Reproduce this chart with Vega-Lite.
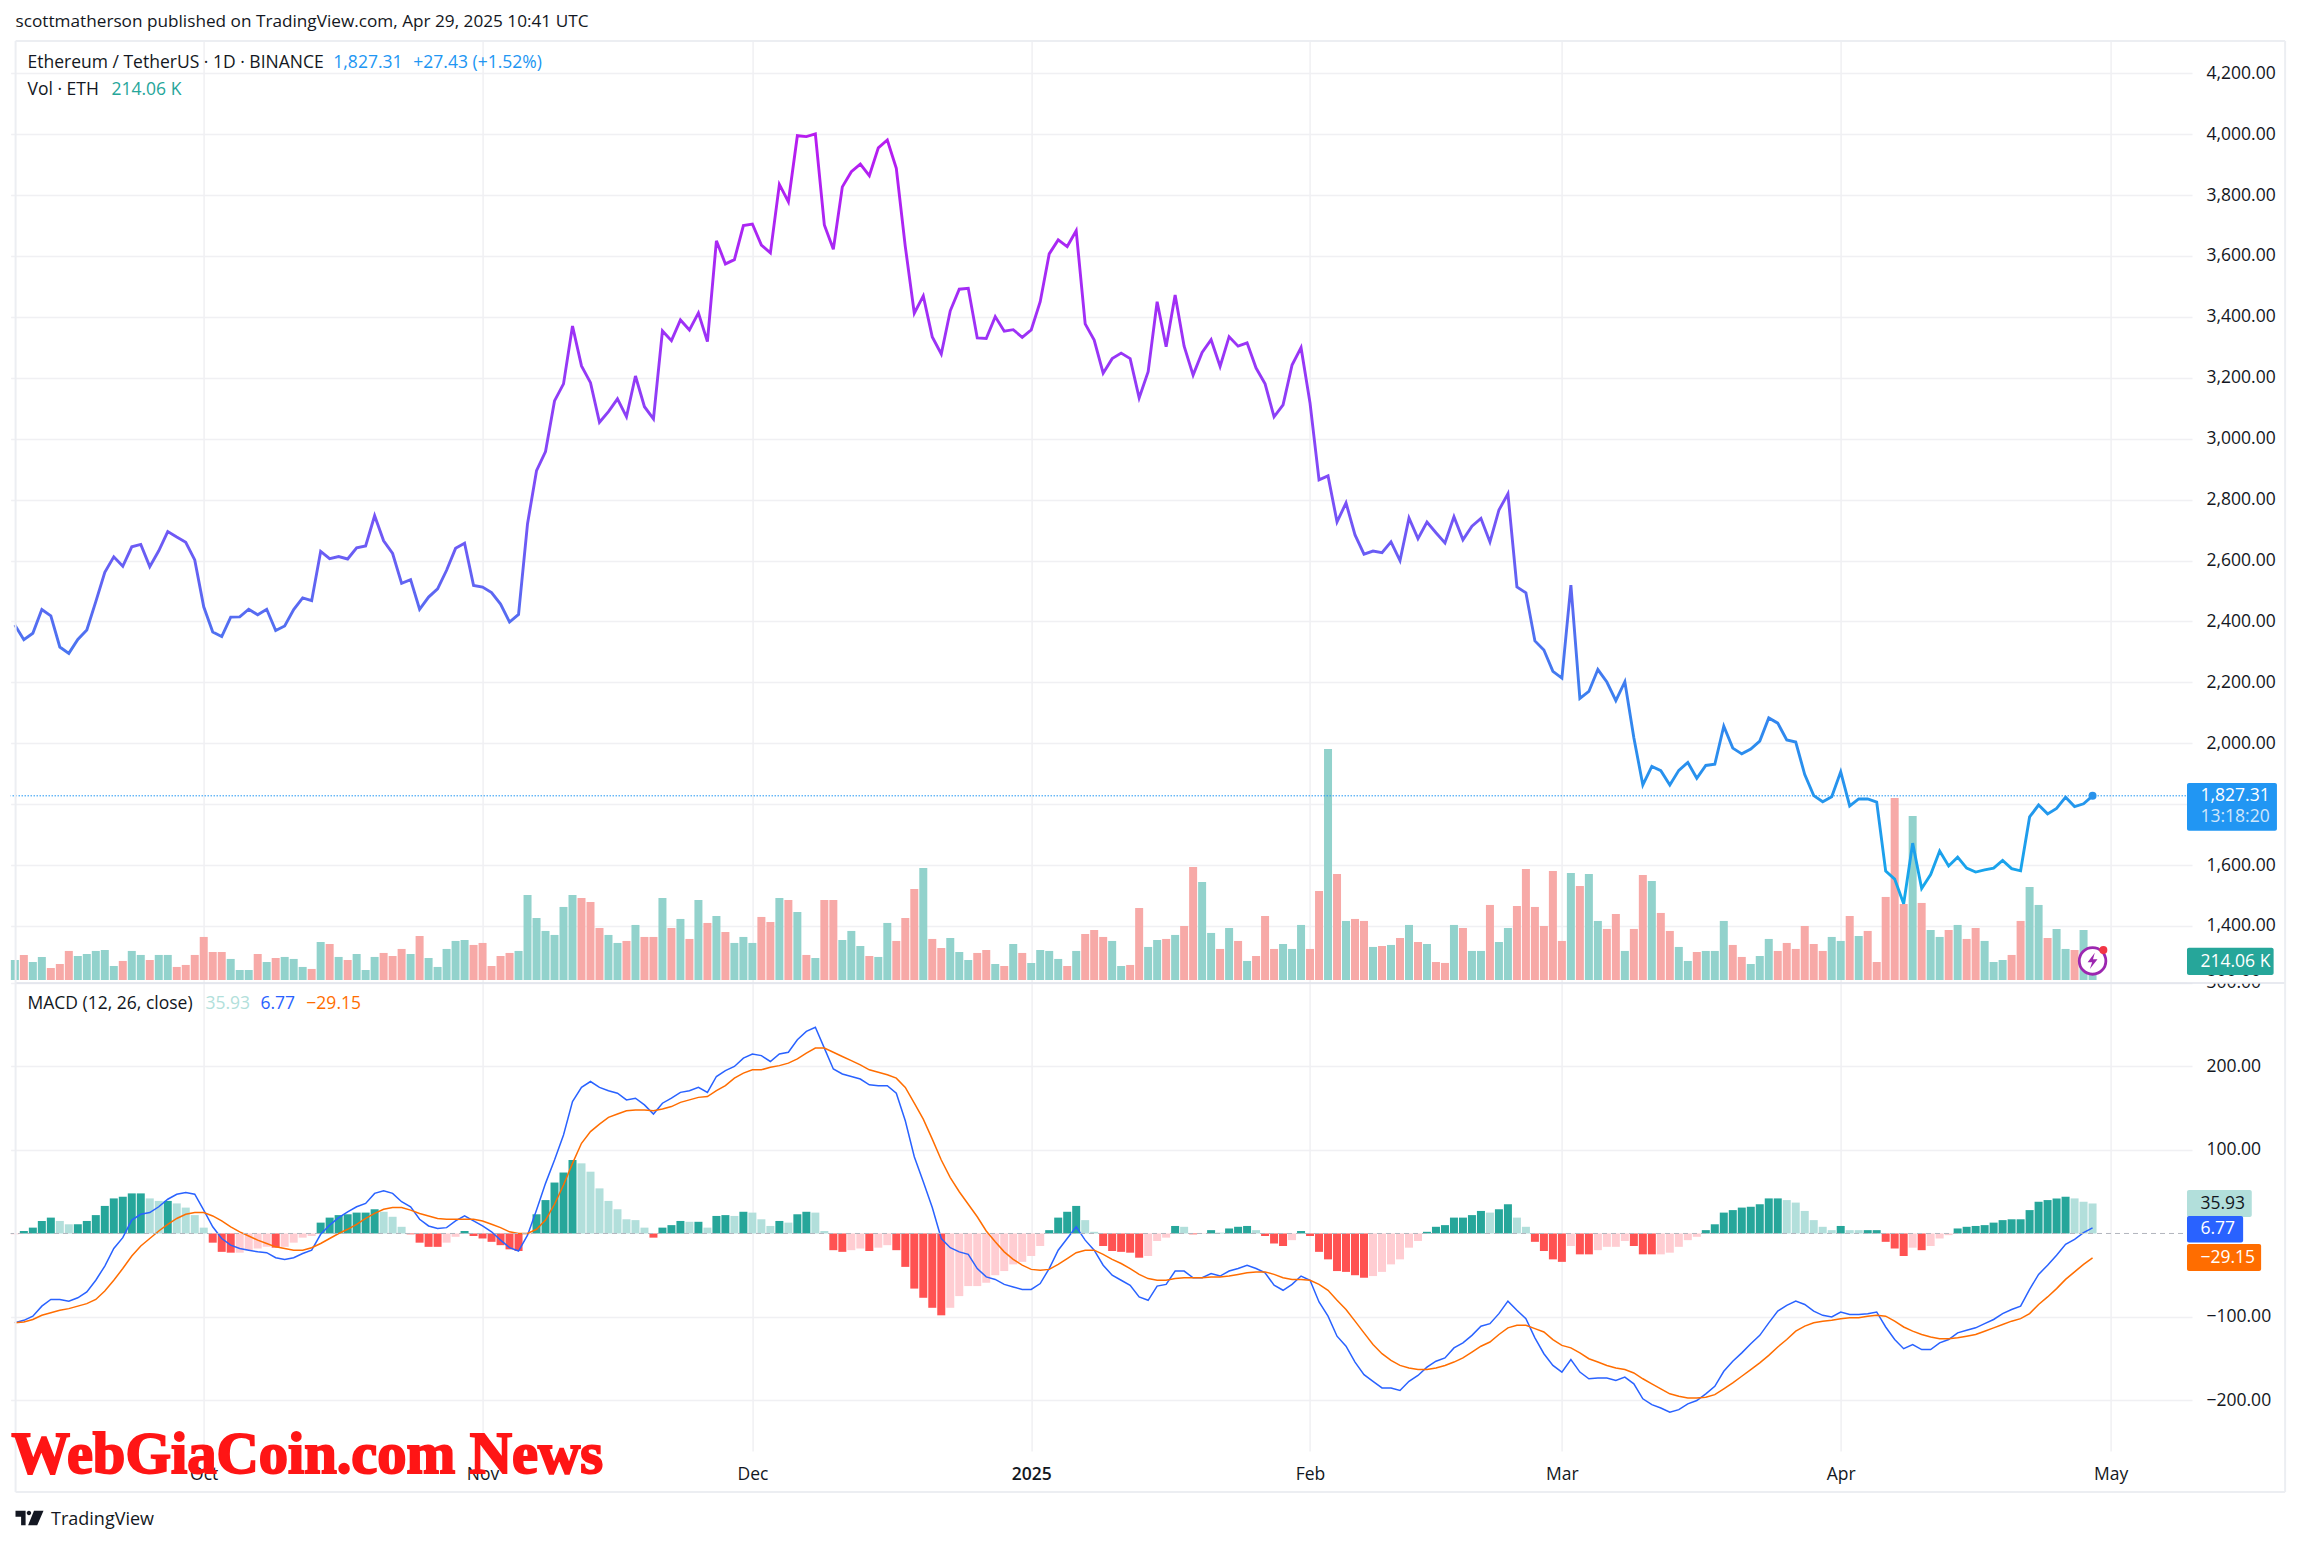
{
  "$schema": "https://vega.github.io/schema/vega-lite/v6.json",
  "autosize": {"type": "none"},
  "padding": {"left": 10.6, "top": 41, "right": 109, "bottom": 95},
  "width": 2181.4,
  "height": 1410,
  "background": "white",
  "config": {
    "view": {"stroke": null},
    "text": {"font": "Open Sans"},
    "axis": {"labelFont": "Open Sans", "labelFontSize": 17.5, "labelColor": "#131722", "gridColor": "#f0f0f3", "gridWidth": 1.5, "domain": false, "ticks": false, "title": null}
  },
  "data": {"values": [
{"date":"2024-09-10","close":2388,"vol":190,"dir":"up","macd":-107,"signal":-107,"hist":-1,"state":"ease"},
{"date":"2024-09-11","close":2340,"vol":238,"dir":"down","macd":-104,"signal":-106,"hist":3,"state":"rise"},
{"date":"2024-09-12","close":2361,"vol":171,"dir":"up","macd":-99,"signal":-103,"hist":7,"state":"rise"},
{"date":"2024-09-13","close":2439,"vol":219,"dir":"up","macd":-87,"signal":-98,"hist":15,"state":"rise"},
{"date":"2024-09-14","close":2418,"vol":114,"dir":"down","macd":-79,"signal":-95,"hist":19,"state":"rise"},
{"date":"2024-09-15","close":2316,"vol":152,"dir":"down","macd":-79,"signal":-92,"hist":15,"state":"fade"},
{"date":"2024-09-16","close":2295,"vol":276,"dir":"down","macd":-81,"signal":-90,"hist":11,"state":"fade"},
{"date":"2024-09-17","close":2341,"vol":228,"dir":"up","macd":-77,"signal":-87,"hist":11,"state":"rise"},
{"date":"2024-09-18","close":2372,"vol":247,"dir":"up","macd":-70,"signal":-84,"hist":15,"state":"rise"},
{"date":"2024-09-19","close":2465,"vol":276,"dir":"up","macd":-56,"signal":-79,"hist":22,"state":"rise"},
{"date":"2024-09-20","close":2561,"vol":285,"dir":"up","macd":-39,"signal":-69,"hist":33,"state":"rise"},
{"date":"2024-09-21","close":2612,"vol":133,"dir":"up","macd":-18,"signal":-56,"hist":42,"state":"rise"},
{"date":"2024-09-22","close":2581,"vol":181,"dir":"down","macd":-5,"signal":-42,"hist":44,"state":"rise"},
{"date":"2024-09-23","close":2645,"vol":276,"dir":"up","macd":16,"signal":-27,"hist":48,"state":"rise"},
{"date":"2024-09-24","close":2653,"vol":238,"dir":"up","macd":23,"signal":-15,"hist":48,"state":"rise"},
{"date":"2024-09-25","close":2580,"vol":190,"dir":"down","macd":25,"signal":-6,"hist":42,"state":"fade"},
{"date":"2024-09-26","close":2632,"vol":238,"dir":"up","macd":32,"signal":3,"hist":39,"state":"fade"},
{"date":"2024-09-27","close":2695,"vol":238,"dir":"up","macd":41,"signal":11,"hist":39,"state":"rise"},
{"date":"2024-09-28","close":2677,"vol":124,"dir":"down","macd":47,"signal":18,"hist":36,"state":"fade"},
{"date":"2024-09-29","close":2660,"vol":143,"dir":"down","macd":49,"signal":23,"hist":31,"state":"fade"},
{"date":"2024-09-30","close":2602,"vol":238,"dir":"down","macd":47,"signal":25,"hist":22,"state":"fade"},
{"date":"2024-10-01","close":2448,"vol":409,"dir":"down","macd":28,"signal":25,"hist":7,"state":"fade"},
{"date":"2024-10-02","close":2365,"vol":266,"dir":"down","macd":8,"signal":21,"hist":-11,"state":"drop"},
{"date":"2024-10-03","close":2350,"vol":266,"dir":"down","macd":-6,"signal":15,"hist":-22,"state":"drop"},
{"date":"2024-10-04","close":2414,"vol":200,"dir":"up","macd":-14,"signal":8,"hist":-23,"state":"drop"},
{"date":"2024-10-05","close":2415,"vol":95,"dir":"up","macd":-18,"signal":2,"hist":-23,"state":"ease"},
{"date":"2024-10-06","close":2440,"vol":95,"dir":"up","macd":-20,"signal":-3,"hist":-20,"state":"ease"},
{"date":"2024-10-07","close":2422,"vol":247,"dir":"down","macd":-22,"signal":-8,"hist":-18,"state":"ease"},
{"date":"2024-10-08","close":2440,"vol":171,"dir":"up","macd":-23,"signal":-12,"hist":-16,"state":"ease"},
{"date":"2024-10-09","close":2370,"vol":209,"dir":"down","macd":-29,"signal":-16,"hist":-17,"state":"drop"},
{"date":"2024-10-10","close":2385,"vol":219,"dir":"up","macd":-31,"signal":-18,"hist":-16,"state":"ease"},
{"date":"2024-10-11","close":2439,"vol":200,"dir":"up","macd":-29,"signal":-20,"hist":-11,"state":"ease"},
{"date":"2024-10-12","close":2477,"vol":124,"dir":"up","macd":-24,"signal":-20,"hist":-5,"state":"ease"},
{"date":"2024-10-13","close":2468,"vol":105,"dir":"down","macd":-20,"signal":-17,"hist":-3,"state":"ease"},
{"date":"2024-10-14","close":2630,"vol":361,"dir":"up","macd":-1,"signal":-12,"hist":13,"state":"rise"},
{"date":"2024-10-15","close":2606,"vol":342,"dir":"down","macd":10,"signal":-6,"hist":19,"state":"rise"},
{"date":"2024-10-16","close":2613,"vol":219,"dir":"up","macd":19,"signal":0,"hist":22,"state":"rise"},
{"date":"2024-10-17","close":2605,"vol":190,"dir":"down","macd":26,"signal":5,"hist":23,"state":"rise"},
{"date":"2024-10-18","close":2642,"vol":247,"dir":"up","macd":32,"signal":11,"hist":25,"state":"rise"},
{"date":"2024-10-19","close":2648,"vol":95,"dir":"up","macd":36,"signal":18,"hist":25,"state":"rise"},
{"date":"2024-10-20","close":2747,"vol":219,"dir":"up","macd":48,"signal":24,"hist":29,"state":"rise"},
{"date":"2024-10-21","close":2665,"vol":257,"dir":"down","macd":51,"signal":29,"hist":26,"state":"fade"},
{"date":"2024-10-22","close":2623,"vol":228,"dir":"down","macd":48,"signal":31,"hist":20,"state":"fade"},
{"date":"2024-10-23","close":2525,"vol":295,"dir":"down","macd":38,"signal":31,"hist":8,"state":"fade"},
{"date":"2024-10-24","close":2537,"vol":247,"dir":"up","macd":32,"signal":28,"hist":-1,"state":"drop"},
{"date":"2024-10-25","close":2440,"vol":418,"dir":"down","macd":17,"signal":24,"hist":-11,"state":"drop"},
{"date":"2024-10-26","close":2480,"vol":209,"dir":"up","macd":9,"signal":21,"hist":-16,"state":"drop"},
{"date":"2024-10-27","close":2507,"vol":124,"dir":"up","macd":6,"signal":18,"hist":-16,"state":"drop"},
{"date":"2024-10-28","close":2568,"vol":295,"dir":"up","macd":7,"signal":17,"hist":-11,"state":"ease"},
{"date":"2024-10-29","close":2640,"vol":371,"dir":"up","macd":15,"signal":17,"hist":-4,"state":"ease"},
{"date":"2024-10-30","close":2657,"vol":380,"dir":"up","macd":21,"signal":17,"hist":3,"state":"rise"},
{"date":"2024-10-31","close":2518,"vol":333,"dir":"down","macd":15,"signal":17,"hist":-3,"state":"drop"},
{"date":"2024-11-01","close":2513,"vol":352,"dir":"down","macd":9,"signal":15,"hist":-6,"state":"drop"},
{"date":"2024-11-02","close":2495,"vol":133,"dir":"down","macd":2,"signal":11,"hist":-10,"state":"drop"},
{"date":"2024-11-03","close":2457,"vol":228,"dir":"down","macd":-8,"signal":7,"hist":-14,"state":"drop"},
{"date":"2024-11-04","close":2398,"vol":257,"dir":"down","macd":-17,"signal":2,"hist":-19,"state":"drop"},
{"date":"2024-11-05","close":2423,"vol":276,"dir":"up","macd":-21,"signal":0,"hist":-21,"state":"drop"},
{"date":"2024-11-06","close":2721,"vol":808,"dir":"up","macd":-2,"signal":0,"hist":-1,"state":"ease"},
{"date":"2024-11-07","close":2895,"vol":589,"dir":"up","macd":28,"signal":5,"hist":23,"state":"rise"},
{"date":"2024-11-08","close":2958,"vol":466,"dir":"up","macd":60,"signal":16,"hist":40,"state":"rise"},
{"date":"2024-11-09","close":3124,"vol":428,"dir":"up","macd":88,"signal":35,"hist":61,"state":"rise"},
{"date":"2024-11-10","close":3180,"vol":694,"dir":"up","macd":118,"signal":58,"hist":73,"state":"rise"},
{"date":"2024-11-11","close":3370,"vol":808,"dir":"up","macd":158,"signal":84,"hist":88,"state":"rise"},
{"date":"2024-11-12","close":3239,"vol":779,"dir":"down","macd":175,"signal":108,"hist":84,"state":"fade"},
{"date":"2024-11-13","close":3184,"vol":741,"dir":"down","macd":182,"signal":122,"hist":74,"state":"fade"},
{"date":"2024-11-14","close":3054,"vol":494,"dir":"down","macd":175,"signal":131,"hist":54,"state":"fade"},
{"date":"2024-11-15","close":3089,"vol":428,"dir":"up","macd":171,"signal":139,"hist":39,"state":"fade"},
{"date":"2024-11-16","close":3131,"vol":352,"dir":"up","macd":168,"signal":143,"hist":29,"state":"fade"},
{"date":"2024-11-17","close":3072,"vol":371,"dir":"down","macd":160,"signal":147,"hist":17,"state":"fade"},
{"date":"2024-11-18","close":3206,"vol":523,"dir":"up","macd":162,"signal":148,"hist":16,"state":"fade"},
{"date":"2024-11-19","close":3105,"vol":409,"dir":"down","macd":154,"signal":148,"hist":7,"state":"fade"},
{"date":"2024-11-20","close":3065,"vol":409,"dir":"down","macd":143,"signal":147,"hist":-5,"state":"drop"},
{"date":"2024-11-21","close":3354,"vol":779,"dir":"up","macd":156,"signal":149,"hist":7,"state":"rise"},
{"date":"2024-11-22","close":3322,"vol":494,"dir":"down","macd":162,"signal":152,"hist":10,"state":"rise"},
{"date":"2024-11-23","close":3390,"vol":580,"dir":"up","macd":169,"signal":157,"hist":15,"state":"rise"},
{"date":"2024-11-24","close":3357,"vol":390,"dir":"down","macd":171,"signal":160,"hist":14,"state":"fade"},
{"date":"2024-11-25","close":3413,"vol":760,"dir":"up","macd":175,"signal":163,"hist":14,"state":"rise"},
{"date":"2024-11-26","close":3319,"vol":542,"dir":"down","macd":169,"signal":164,"hist":7,"state":"fade"},
{"date":"2024-11-27","close":3650,"vol":608,"dir":"up","macd":188,"signal":171,"hist":21,"state":"rise"},
{"date":"2024-11-28","close":3574,"vol":456,"dir":"down","macd":195,"signal":177,"hist":22,"state":"rise"},
{"date":"2024-11-29","close":3588,"vol":352,"dir":"up","macd":200,"signal":186,"hist":21,"state":"fade"},
{"date":"2024-11-30","close":3700,"vol":409,"dir":"up","macd":210,"signal":192,"hist":26,"state":"rise"},
{"date":"2024-12-01","close":3705,"vol":352,"dir":"up","macd":215,"signal":196,"hist":25,"state":"fade"},
{"date":"2024-12-02","close":3636,"vol":599,"dir":"down","macd":213,"signal":196,"hist":17,"state":"fade"},
{"date":"2024-12-03","close":3610,"vol":551,"dir":"down","macd":206,"signal":199,"hist":9,"state":"fade"},
{"date":"2024-12-04","close":3835,"vol":779,"dir":"up","macd":215,"signal":201,"hist":15,"state":"rise"},
{"date":"2024-12-05","close":3778,"vol":760,"dir":"down","macd":217,"signal":204,"hist":13,"state":"fade"},
{"date":"2024-12-06","close":3995,"vol":646,"dir":"up","macd":232,"signal":209,"hist":23,"state":"rise"},
{"date":"2024-12-07","close":3992,"vol":238,"dir":"down","macd":242,"signal":216,"hist":26,"state":"rise"},
{"date":"2024-12-08","close":4001,"vol":209,"dir":"up","macd":247,"signal":222,"hist":25,"state":"fade"},
{"date":"2024-12-09","close":3702,"vol":760,"dir":"down","macd":222,"signal":222,"hist":3,"state":"fade"},
{"date":"2024-12-10","close":3622,"vol":760,"dir":"down","macd":197,"signal":217,"hist":-20,"state":"drop"},
{"date":"2024-12-11","close":3827,"vol":380,"dir":"up","macd":191,"signal":212,"hist":-22,"state":"drop"},
{"date":"2024-12-12","close":3877,"vol":466,"dir":"up","macd":188,"signal":207,"hist":-20,"state":"ease"},
{"date":"2024-12-13","close":3902,"vol":323,"dir":"up","macd":185,"signal":202,"hist":-18,"state":"ease"},
{"date":"2024-12-14","close":3864,"vol":228,"dir":"down","macd":178,"signal":196,"hist":-21,"state":"drop"},
{"date":"2024-12-15","close":3955,"vol":219,"dir":"up","macd":177,"signal":193,"hist":-17,"state":"ease"},
{"date":"2024-12-16","close":3981,"vol":542,"dir":"up","macd":177,"signal":190,"hist":-14,"state":"ease"},
{"date":"2024-12-17","close":3888,"vol":371,"dir":"down","macd":168,"signal":186,"hist":-20,"state":"drop"},
{"date":"2024-12-18","close":3631,"vol":589,"dir":"down","macd":135,"signal":175,"hist":-40,"state":"drop"},
{"date":"2024-12-19","close":3412,"vol":865,"dir":"down","macd":92,"signal":156,"hist":-66,"state":"drop"},
{"date":"2024-12-20","close":3469,"vol":1064,"dir":"up","macd":62,"signal":137,"hist":-77,"state":"drop"},
{"date":"2024-12-21","close":3334,"vol":390,"dir":"down","macd":31,"signal":113,"hist":-89,"state":"drop"},
{"date":"2024-12-22","close":3278,"vol":304,"dir":"down","macd":-6,"signal":88,"hist":-98,"state":"drop"},
{"date":"2024-12-23","close":3420,"vol":399,"dir":"up","macd":-17,"signal":67,"hist":-89,"state":"ease"},
{"date":"2024-12-24","close":3491,"vol":266,"dir":"up","macd":-22,"signal":50,"hist":-75,"state":"ease"},
{"date":"2024-12-25","close":3494,"vol":190,"dir":"up","macd":-25,"signal":35,"hist":-63,"state":"ease"},
{"date":"2024-12-26","close":3331,"vol":257,"dir":"down","macd":-42,"signal":20,"hist":-63,"state":"ease"},
{"date":"2024-12-27","close":3329,"vol":285,"dir":"down","macd":-52,"signal":3,"hist":-59,"state":"ease"},
{"date":"2024-12-28","close":3401,"vol":152,"dir":"up","macd":-55,"signal":-10,"hist":-50,"state":"ease"},
{"date":"2024-12-29","close":3353,"vol":133,"dir":"down","macd":-61,"signal":-22,"hist":-45,"state":"ease"},
{"date":"2024-12-30","close":3358,"vol":342,"dir":"up","macd":-64,"signal":-31,"hist":-37,"state":"ease"},
{"date":"2024-12-31","close":3333,"vol":257,"dir":"down","macd":-67,"signal":-38,"hist":-34,"state":"ease"},
{"date":"2025-01-01","close":3357,"vol":162,"dir":"up","macd":-67,"signal":-43,"hist":-27,"state":"ease"},
{"date":"2025-01-02","close":3450,"vol":285,"dir":"up","macd":-60,"signal":-44,"hist":-15,"state":"ease"},
{"date":"2025-01-03","close":3607,"vol":276,"dir":"up","macd":-42,"signal":-43,"hist":4,"state":"rise"},
{"date":"2025-01-04","close":3653,"vol":200,"dir":"up","macd":-20,"signal":-37,"hist":19,"state":"rise"},
{"date":"2025-01-05","close":3631,"vol":133,"dir":"down","macd":-6,"signal":-30,"hist":26,"state":"rise"},
{"date":"2025-01-06","close":3683,"vol":276,"dir":"up","macd":8,"signal":-23,"hist":33,"state":"rise"},
{"date":"2025-01-07","close":3377,"vol":437,"dir":"down","macd":-8,"signal":-20,"hist":16,"state":"fade"},
{"date":"2025-01-08","close":3324,"vol":475,"dir":"down","macd":-20,"signal":-20,"hist":2,"state":"fade"},
{"date":"2025-01-09","close":3215,"vol":409,"dir":"down","macd":-38,"signal":-25,"hist":-15,"state":"drop"},
{"date":"2025-01-10","close":3263,"vol":371,"dir":"up","macd":-50,"signal":-31,"hist":-21,"state":"drop"},
{"date":"2025-01-11","close":3281,"vol":133,"dir":"up","macd":-56,"signal":-36,"hist":-22,"state":"drop"},
{"date":"2025-01-12","close":3263,"vol":143,"dir":"down","macd":-62,"signal":-42,"hist":-23,"state":"drop"},
{"date":"2025-01-13","close":3134,"vol":684,"dir":"down","macd":-76,"signal":-49,"hist":-29,"state":"drop"},
{"date":"2025-01-14","close":3220,"vol":314,"dir":"up","macd":-80,"signal":-54,"hist":-27,"state":"ease"},
{"date":"2025-01-15","close":3450,"vol":380,"dir":"up","macd":-63,"signal":-56,"hist":-9,"state":"ease"},
{"date":"2025-01-16","close":3302,"vol":390,"dir":"down","macd":-61,"signal":-56,"hist":-5,"state":"ease"},
{"date":"2025-01-17","close":3472,"vol":428,"dir":"up","macd":-45,"signal":-54,"hist":9,"state":"rise"},
{"date":"2025-01-18","close":3304,"vol":513,"dir":"down","macd":-45,"signal":-53,"hist":8,"state":"fade"},
{"date":"2025-01-19","close":3209,"vol":1074,"dir":"down","macd":-53,"signal":-53,"hist":-1,"state":"drop"},
{"date":"2025-01-20","close":3283,"vol":931,"dir":"up","macd":-53,"signal":-53,"hist":-0.5,"state":"ease"},
{"date":"2025-01-21","close":3325,"vol":447,"dir":"up","macd":-48,"signal":-52,"hist":4,"state":"rise"},
{"date":"2025-01-22","close":3237,"vol":295,"dir":"down","macd":-51,"signal":-52,"hist":1,"state":"fade"},
{"date":"2025-01-23","close":3335,"vol":494,"dir":"up","macd":-45,"signal":-51,"hist":6,"state":"rise"},
{"date":"2025-01-24","close":3304,"vol":371,"dir":"down","macd":-42,"signal":-49,"hist":8,"state":"rise"},
{"date":"2025-01-25","close":3315,"vol":181,"dir":"up","macd":-38,"signal":-47,"hist":9,"state":"rise"},
{"date":"2025-01-26","close":3232,"vol":228,"dir":"down","macd":-42,"signal":-46,"hist":4,"state":"fade"},
{"date":"2025-01-27","close":3180,"vol":608,"dir":"down","macd":-47,"signal":-46,"hist":-3,"state":"drop"},
{"date":"2025-01-28","close":3072,"vol":295,"dir":"down","macd":-62,"signal":-49,"hist":-12,"state":"drop"},
{"date":"2025-01-29","close":3111,"vol":342,"dir":"up","macd":-68,"signal":-53,"hist":-15,"state":"drop"},
{"date":"2025-01-30","close":3242,"vol":295,"dir":"up","macd":-61,"signal":-55,"hist":-8,"state":"ease"},
{"date":"2025-01-31","close":3299,"vol":523,"dir":"up","macd":-51,"signal":-55,"hist":3,"state":"rise"},
{"date":"2025-02-01","close":3117,"vol":295,"dir":"down","macd":-56,"signal":-56,"hist":-3,"state":"drop"},
{"date":"2025-02-02","close":2865,"vol":846,"dir":"down","macd":-82,"signal":-61,"hist":-22,"state":"drop"},
{"date":"2025-02-03","close":2878,"vol":2195,"dir":"up","macd":-99,"signal":-68,"hist":-31,"state":"drop"},
{"date":"2025-02-04","close":2727,"vol":1007,"dir":"down","macd":-123,"signal":-80,"hist":-45,"state":"drop"},
{"date":"2025-02-05","close":2789,"vol":561,"dir":"up","macd":-135,"signal":-91,"hist":-46,"state":"drop"},
{"date":"2025-02-06","close":2684,"vol":580,"dir":"down","macd":-154,"signal":-105,"hist":-50,"state":"drop"},
{"date":"2025-02-07","close":2621,"vol":561,"dir":"down","macd":-169,"signal":-119,"hist":-53,"state":"drop"},
{"date":"2025-02-08","close":2631,"vol":314,"dir":"up","macd":-177,"signal":-133,"hist":-51,"state":"ease"},
{"date":"2025-02-09","close":2626,"vol":323,"dir":"down","macd":-185,"signal":-144,"hist":-46,"state":"ease"},
{"date":"2025-02-10","close":2661,"vol":333,"dir":"up","macd":-185,"signal":-152,"hist":-37,"state":"ease"},
{"date":"2025-02-11","close":2600,"vol":399,"dir":"down","macd":-188,"signal":-158,"hist":-31,"state":"ease"},
{"date":"2025-02-12","close":2740,"vol":523,"dir":"up","macd":-177,"signal":-161,"hist":-17,"state":"ease"},
{"date":"2025-02-13","close":2672,"vol":361,"dir":"down","macd":-170,"signal":-163,"hist":-9,"state":"ease"},
{"date":"2025-02-14","close":2726,"vol":342,"dir":"up","macd":-160,"signal":-163,"hist":2,"state":"rise"},
{"date":"2025-02-15","close":2691,"vol":171,"dir":"down","macd":-153,"signal":-161,"hist":8,"state":"rise"},
{"date":"2025-02-16","close":2658,"vol":162,"dir":"down","macd":-149,"signal":-158,"hist":10,"state":"rise"},
{"date":"2025-02-17","close":2744,"vol":523,"dir":"up","macd":-137,"signal":-154,"hist":19,"state":"rise"},
{"date":"2025-02-18","close":2668,"vol":494,"dir":"down","macd":-131,"signal":-149,"hist":19,"state":"rise"},
{"date":"2025-02-19","close":2713,"vol":276,"dir":"up","macd":-122,"signal":-142,"hist":22,"state":"rise"},
{"date":"2025-02-20","close":2738,"vol":276,"dir":"up","macd":-111,"signal":-135,"hist":27,"state":"rise"},
{"date":"2025-02-21","close":2661,"vol":713,"dir":"down","macd":-108,"signal":-130,"hist":25,"state":"fade"},
{"date":"2025-02-22","close":2766,"vol":361,"dir":"up","macd":-96,"signal":-121,"hist":29,"state":"rise"},
{"date":"2025-02-23","close":2819,"vol":494,"dir":"up","macd":-81,"signal":-113,"hist":35,"state":"rise"},
{"date":"2025-02-24","close":2513,"vol":703,"dir":"down","macd":-92,"signal":-110,"hist":19,"state":"fade"},
{"date":"2025-02-25","close":2494,"vol":1055,"dir":"down","macd":-102,"signal":-110,"hist":8,"state":"fade"},
{"date":"2025-02-26","close":2336,"vol":694,"dir":"down","macd":-125,"signal":-114,"hist":-10,"state":"drop"},
{"date":"2025-02-27","close":2306,"vol":513,"dir":"down","macd":-144,"signal":-118,"hist":-21,"state":"drop"},
{"date":"2025-02-28","close":2236,"vol":1036,"dir":"down","macd":-158,"signal":-127,"hist":-31,"state":"drop"},
{"date":"2025-03-01","close":2214,"vol":371,"dir":"down","macd":-166,"signal":-134,"hist":-34,"state":"drop"},
{"date":"2025-03-02","close":2519,"vol":1017,"dir":"up","macd":-151,"signal":-137,"hist":-15,"state":"ease"},
{"date":"2025-03-03","close":2147,"vol":893,"dir":"down","macd":-166,"signal":-143,"hist":-25,"state":"drop"},
{"date":"2025-03-04","close":2170,"vol":1007,"dir":"up","macd":-174,"signal":-150,"hist":-25,"state":"drop"},
{"date":"2025-03-05","close":2242,"vol":561,"dir":"up","macd":-173,"signal":-154,"hist":-20,"state":"ease"},
{"date":"2025-03-06","close":2201,"vol":485,"dir":"down","macd":-173,"signal":-158,"hist":-16,"state":"ease"},
{"date":"2025-03-07","close":2140,"vol":627,"dir":"down","macd":-176,"signal":-161,"hist":-16,"state":"ease"},
{"date":"2025-03-08","close":2202,"vol":276,"dir":"up","macd":-172,"signal":-163,"hist":-9,"state":"ease"},
{"date":"2025-03-09","close":2018,"vol":485,"dir":"down","macd":-180,"signal":-167,"hist":-15,"state":"drop"},
{"date":"2025-03-10","close":1863,"vol":998,"dir":"down","macd":-198,"signal":-174,"hist":-25,"state":"drop"},
{"date":"2025-03-11","close":1924,"vol":941,"dir":"up","macd":-205,"signal":-180,"hist":-25,"state":"drop"},
{"date":"2025-03-12","close":1910,"vol":637,"dir":"down","macd":-209,"signal":-186,"hist":-25,"state":"ease"},
{"date":"2025-03-13","close":1863,"vol":466,"dir":"down","macd":-214,"signal":-192,"hist":-23,"state":"ease"},
{"date":"2025-03-14","close":1911,"vol":314,"dir":"up","macd":-211,"signal":-195,"hist":-16,"state":"ease"},
{"date":"2025-03-15","close":1937,"vol":181,"dir":"up","macd":-204,"signal":-197,"hist":-8,"state":"ease"},
{"date":"2025-03-16","close":1885,"vol":266,"dir":"down","macd":-200,"signal":-197,"hist":-4,"state":"ease"},
{"date":"2025-03-17","close":1927,"vol":276,"dir":"up","macd":-192,"signal":-196,"hist":4,"state":"rise"},
{"date":"2025-03-18","close":1931,"vol":276,"dir":"up","macd":-183,"signal":-193,"hist":11,"state":"rise"},
{"date":"2025-03-19","close":2056,"vol":561,"dir":"up","macd":-165,"signal":-186,"hist":25,"state":"rise"},
{"date":"2025-03-20","close":1984,"vol":333,"dir":"down","macd":-153,"signal":-179,"hist":28,"state":"rise"},
{"date":"2025-03-21","close":1965,"vol":219,"dir":"down","macd":-143,"signal":-171,"hist":31,"state":"rise"},
{"date":"2025-03-22","close":1981,"vol":152,"dir":"up","macd":-132,"signal":-163,"hist":32,"state":"rise"},
{"date":"2025-03-23","close":2007,"vol":228,"dir":"up","macd":-122,"signal":-155,"hist":35,"state":"rise"},
{"date":"2025-03-24","close":2083,"vol":390,"dir":"up","macd":-107,"signal":-146,"hist":42,"state":"rise"},
{"date":"2025-03-25","close":2066,"vol":276,"dir":"down","macd":-93,"signal":-136,"hist":42,"state":"rise"},
{"date":"2025-03-26","close":2011,"vol":352,"dir":"down","macd":-86,"signal":-127,"hist":40,"state":"fade"},
{"date":"2025-03-27","close":2004,"vol":295,"dir":"down","macd":-81,"signal":-117,"hist":37,"state":"fade"},
{"date":"2025-03-28","close":1897,"vol":513,"dir":"down","macd":-85,"signal":-111,"hist":27,"state":"fade"},
{"date":"2025-03-29","close":1828,"vol":342,"dir":"down","macd":-93,"signal":-107,"hist":16,"state":"fade"},
{"date":"2025-03-30","close":1808,"vol":276,"dir":"down","macd":-98,"signal":-105,"hist":8,"state":"fade"},
{"date":"2025-03-31","close":1824,"vol":409,"dir":"up","macd":-100,"signal":-104,"hist":4,"state":"fade"},
{"date":"2025-04-01","close":1906,"vol":371,"dir":"up","macd":-94,"signal":-102,"hist":9,"state":"rise"},
{"date":"2025-04-02","close":1794,"vol":608,"dir":"down","macd":-97,"signal":-101,"hist":4,"state":"fade"},
{"date":"2025-04-03","close":1817,"vol":418,"dir":"up","macd":-97,"signal":-101,"hist":4,"state":"fade"},
{"date":"2025-04-04","close":1817,"vol":466,"dir":"down","macd":-96,"signal":-99,"hist":4,"state":"rise"},
{"date":"2025-04-05","close":1807,"vol":171,"dir":"down","macd":-94,"signal":-98,"hist":4,"state":"rise"},
{"date":"2025-04-06","close":1580,"vol":789,"dir":"down","macd":-112,"signal":-99,"hist":-10,"state":"drop"},
{"date":"2025-04-07","close":1554,"vol":1729,"dir":"down","macd":-127,"signal":-105,"hist":-18,"state":"drop"},
{"date":"2025-04-08","close":1473,"vol":722,"dir":"down","macd":-138,"signal":-112,"hist":-27,"state":"drop"},
{"date":"2025-04-09","close":1672,"vol":1558,"dir":"up","macd":-133,"signal":-117,"hist":-17,"state":"ease"},
{"date":"2025-04-10","close":1523,"vol":732,"dir":"down","macd":-139,"signal":-121,"hist":-20,"state":"drop"},
{"date":"2025-04-11","close":1569,"vol":475,"dir":"up","macd":-139,"signal":-124,"hist":-15,"state":"ease"},
{"date":"2025-04-12","close":1646,"vol":409,"dir":"up","macd":-131,"signal":-126,"hist":-6,"state":"ease"},
{"date":"2025-04-13","close":1597,"vol":475,"dir":"down","macd":-127,"signal":-126,"hist":-2,"state":"ease"},
{"date":"2025-04-14","close":1626,"vol":523,"dir":"up","macd":-119,"signal":-125,"hist":6,"state":"rise"},
{"date":"2025-04-15","close":1590,"vol":390,"dir":"down","macd":-116,"signal":-123,"hist":8,"state":"rise"},
{"date":"2025-04-16","close":1577,"vol":494,"dir":"down","macd":-113,"signal":-121,"hist":9,"state":"rise"},
{"date":"2025-04-17","close":1584,"vol":371,"dir":"up","macd":-108,"signal":-117,"hist":10,"state":"rise"},
{"date":"2025-04-18","close":1590,"vol":171,"dir":"up","macd":-103,"signal":-113,"hist":13,"state":"rise"},
{"date":"2025-04-19","close":1615,"vol":190,"dir":"up","macd":-96,"signal":-109,"hist":16,"state":"rise"},
{"date":"2025-04-20","close":1588,"vol":238,"dir":"down","macd":-91,"signal":-105,"hist":17,"state":"rise"},
{"date":"2025-04-21","close":1581,"vol":561,"dir":"down","macd":-87,"signal":-102,"hist":17,"state":"rise"},
{"date":"2025-04-22","close":1758,"vol":884,"dir":"up","macd":-67,"signal":-96,"hist":28,"state":"rise"},
{"date":"2025-04-23","close":1797,"vol":713,"dir":"up","macd":-49,"signal":-85,"hist":38,"state":"rise"},
{"date":"2025-04-24","close":1768,"vol":399,"dir":"down","macd":-38,"signal":-76,"hist":40,"state":"rise"},
{"date":"2025-04-25","close":1786,"vol":485,"dir":"up","macd":-26,"signal":-66,"hist":42,"state":"rise"},
{"date":"2025-04-26","close":1823,"vol":295,"dir":"up","macd":-13,"signal":-55,"hist":44,"state":"rise"},
{"date":"2025-04-27","close":1792,"vol":285,"dir":"down","macd":-7,"signal":-46,"hist":42,"state":"fade"},
{"date":"2025-04-28","close":1801,"vol":475,"dir":"up","macd":1,"signal":-37,"hist":38,"state":"fade"},
{"date":"2025-04-29","close":1827.31,"vol":214.06,"dir":"up","macd":6.77,"signal":-29.15,"hist":35.93,"state":"fade"}
  ]},
  "layer": [
    {
      "mark": {"type": "bar", "size": 8},
      "encoding": {
        "x": {"field": "date", "type": "temporal"},
        "y": {"field": "vol", "type": "quantitative", "axis": null, "scale": {"domain": [-4474.5, 8920.5], "nice": false, "zero": false}},
        "color": {"field": "dir", "type": "nominal", "legend": null, "scale": {"domain": ["up", "down"], "range": ["#92d2cc", "#f7a9a7"]}}
      }
    },
    {
      "layer": [
        {
          "mark": {"type": "line", "strokeWidth": 2.9, "strokeJoin": "miter", "stroke": {"gradient": "linear", "x1": 0, "y1": 0, "x2": 0, "y2": 1, "stops": [
            {"offset": 0, "color": "#b71cf0"},
            {"offset": 0.24, "color": "#a02ff6"},
            {"offset": 0.475, "color": "#7a50f7"},
            {"offset": 0.59, "color": "#5f65f2"},
            {"offset": 0.79, "color": "#2d8bee"},
            {"offset": 1, "color": "#14aaeb"}
          ]}},
          "encoding": {
            "x": {
              "field": "date", "type": "temporal",
              "scale": {"type": "utc", "domain": [
                {"utc": true, "year": 2024, "month": 9, "date": 10, "hours": 2},
                {"utc": true, "year": 2025, "month": 5, "date": 9, "hours": 12}
              ]},
              "axis": {
                "grid": true, "labelPadding": 14, "labelFlush": false, "labelOverlap": false,
                "values": [
                  {"utc": true, "year": 2024, "month": "oct", "date": 1},
                  {"utc": true, "year": 2024, "month": "nov", "date": 1},
                  {"utc": true, "year": 2024, "month": "dec", "date": 1},
                  {"utc": true, "year": 2025, "month": "jan", "date": 1},
                  {"utc": true, "year": 2025, "month": "feb", "date": 1},
                  {"utc": true, "year": 2025, "month": "mar", "date": 1},
                  {"utc": true, "year": 2025, "month": "apr", "date": 1},
                  {"utc": true, "year": 2025, "month": "may", "date": 1}
                ],
                "labelExpr": "utcFormat(datum.value, '%b') == 'Jan' ? '2025' : utcFormat(datum.value, '%b')",
                "labelFontWeight": {"condition": {"test": "utcFormat(datum.value, '%b') == 'Jan'", "value": 600}, "value": 400}
              }
            },
            "y": {
              "field": "close", "type": "quantitative",
              "scale": {"domain": [-324.2, 4306], "nice": false, "zero": false},
              "axis": {"orient": "right", "grid": true, "labelPadding": 14, "format": ",.2f", "values": [1400, 1600, 1800, 2000, 2200, 2400, 2600, 2800, 3000, 3200, 3400, 3600, 3800, 4000, 4200]}
            }
          }
        },
        {
          "transform": [{"filter": "datum.close == 1827.31"}],
          "mark": {"type": "point", "filled": true, "size": 64, "color": "#2a92ea", "opacity": 1},
          "encoding": {
            "x": {"field": "date", "type": "temporal"},
            "y": {"field": "close", "type": "quantitative"}
          }
        },
        {
          "data": {"values": [{}]},
          "layer": [
            {"mark": {"type": "rule", "color": "#2196f3", "strokeWidth": 1, "strokeDash": [1.5, 1.5]}, "encoding": {"y": {"datum": 1827.31, "type": "quantitative"}}},
            {"mark": {"type": "text", "align": "left", "fontSize": 17.2, "color": "#131722"}, "encoding": {"x": {"datum": {"utc": true, "year": 2024, "month": 9, "date": 10, "hours": 2}, "type": "temporal"}, "y": {"datum": 4367, "type": "quantitative"}, "text": {"value": "scottmatherson published on TradingView.com, Apr 29, 2025 10:41 UTC"}}},
            {"mark": {"type": "text", "align": "left", "fontSize": 17.5, "color": "#131722"}, "encoding": {"x": {"datum": {"utc": true, "year": 2024, "month": 9, "date": 11, "hours": 9, "minutes": 50}, "type": "temporal"}, "y": {"datum": 4234, "type": "quantitative"}, "text": {"value": "Ethereum / TetherUS · 1D · BINANCE"}}},
            {"mark": {"type": "text", "align": "left", "fontSize": 17.5, "color": "#2196f3"}, "encoding": {"x": {"datum": {"utc": true, "year": 2024, "month": 10, "date": 15, "hours": 9, "minutes": 50}, "type": "temporal"}, "y": {"datum": 4234, "type": "quantitative"}, "text": {"value": "1,827.31"}}},
            {"mark": {"type": "text", "align": "left", "fontSize": 17.5, "color": "#2196f3"}, "encoding": {"x": {"datum": {"utc": true, "year": 2024, "month": 10, "date": 24, "hours": 7, "minutes": 12}, "type": "temporal"}, "y": {"datum": 4234, "type": "quantitative"}, "text": {"value": "+27.43 (+1.52%)"}}},
            {"mark": {"type": "text", "align": "left", "fontSize": 17.5, "color": "#131722"}, "encoding": {"x": {"datum": {"utc": true, "year": 2024, "month": 9, "date": 11, "hours": 9, "minutes": 50}, "type": "temporal"}, "y": {"datum": 4145, "type": "quantitative"}, "text": {"value": "Vol · ETH"}}},
            {"mark": {"type": "text", "align": "left", "fontSize": 17.5, "color": "#26a69a"}, "encoding": {"x": {"datum": {"utc": true, "year": 2024, "month": 9, "date": 20, "hours": 17, "minutes": 46}, "type": "temporal"}, "y": {"datum": 4145, "type": "quantitative"}, "text": {"value": "214.06 K"}}},
            {"mark": {"type": "rect", "color": "#2196f3", "cornerRadius": 2}, "encoding": {"x": {"datum": {"utc": true, "year": 2025, "month": 5, "date": 9, "hours": 12}, "type": "temporal"}, "x2": {"datum": {"utc": true, "year": 2025, "month": 5, "date": 19, "hours": 12}}, "y": {"datum": 1869.6, "type": "quantitative"}, "y2": {"datum": 1713}}},
            {"mark": {"type": "text", "align": "left", "fontSize": 17.5, "color": "#ffffff"}, "encoding": {"x": {"datum": {"utc": true, "year": 2025, "month": 5, "date": 11}, "type": "temporal"}, "y": {"datum": 1828, "type": "quantitative"}, "text": {"value": "1,827.31"}}},
            {"mark": {"type": "text", "align": "left", "fontSize": 17.5, "color": "#cfe6fb"}, "encoding": {"x": {"datum": {"utc": true, "year": 2025, "month": 5, "date": 11}, "type": "temporal"}, "y": {"datum": 1759, "type": "quantitative"}, "text": {"value": "13:18:20"}}},
            {"mark": {"type": "rect", "color": "#26a69a", "cornerRadius": 2}, "encoding": {"x": {"datum": {"utc": true, "year": 2025, "month": 5, "date": 9, "hours": 12}, "type": "temporal"}, "x2": {"datum": {"utc": true, "year": 2025, "month": 5, "date": 19, "hours": 3, "minutes": 7}}, "y": {"datum": 1328, "type": "quantitative"}, "y2": {"datum": 1239}}},
            {"mark": {"type": "text", "align": "left", "fontSize": 17.5, "color": "#ffffff"}, "encoding": {"x": {"datum": {"utc": true, "year": 2025, "month": 5, "date": 11}, "type": "temporal"}, "y": {"datum": 1283, "type": "quantitative"}, "text": {"value": "214.06 K"}}},
            {"mark": {"type": "point", "filled": true, "opacity": 1, "size": 707, "fill": "#ffffff", "stroke": "#9c27b0", "strokeWidth": 2.8}, "encoding": {"x": {"datum": {"utc": true, "year": 2025, "month": 4, "date": 29}, "type": "temporal"}, "y": {"datum": 1285, "type": "quantitative"}}},
            {"mark": {"type": "point", "filled": true, "opacity": 1, "size": 324, "color": "#9c27b0", "shape": "M0.25,-0.9 L-0.55,0.15 L-0.05,0.15 L-0.3,0.9 L0.55,-0.2 L0.05,-0.2 Z"}, "encoding": {"x": {"datum": {"utc": true, "year": 2025, "month": 4, "date": 29}, "type": "temporal"}, "y": {"datum": 1285, "type": "quantitative"}}},
            {"mark": {"type": "point", "filled": true, "opacity": 1, "size": 64, "color": "#f23645"}, "encoding": {"x": {"datum": {"utc": true, "year": 2025, "month": 4, "date": 30, "hours": 4, "minutes": 48}, "type": "temporal"}, "y": {"datum": 1321, "type": "quantitative"}}}
          ]
        }
      ]
    },
    {
      "layer": [
        {
          "mark": {"type": "bar", "size": 8},
          "encoding": {
            "x": {"field": "date", "type": "temporal"},
            "y": {
              "field": "hist", "type": "quantitative",
              "scale": {"domain": [-260.5, 1428.1], "nice": false, "zero": false},
              "axis": {"orient": "right", "grid": true, "labelPadding": 14, "format": ",.2f", "values": [-200, -100, 100, 200, 300]}
            },
            "color": {"field": "state", "type": "nominal", "legend": null, "scale": {"domain": ["rise", "fade", "drop", "ease"], "range": ["#26a69a", "#b2dfdb", "#ff5252", "#ffcdd2"]}}
          }
        },
        {
          "mark": {"type": "line", "color": "#2962ff", "strokeWidth": 1.5},
          "encoding": {"x": {"field": "date", "type": "temporal"}, "y": {"field": "macd", "type": "quantitative"}}
        },
        {
          "mark": {"type": "line", "color": "#ff6d00", "strokeWidth": 1.5},
          "encoding": {"x": {"field": "date", "type": "temporal"}, "y": {"field": "signal", "type": "quantitative"}}
        },
        {
          "data": {"values": [{}]},
          "layer": [
            {"mark": {"type": "rule", "color": "#b2b5be", "strokeWidth": 1, "strokeDash": [5, 4]}, "encoding": {"y": {"datum": 0, "type": "quantitative"}}},
            {"mark": {"type": "rect", "color": "#ffffff"}, "encoding": {"x": {"datum": {"utc": true, "year": 2025, "month": 5, "date": 9, "hours": 12}, "type": "temporal"}, "x2": {"datum": {"utc": true, "year": 2025, "month": 5, "date": 20, "hours": 9, "minutes": 50}}, "y": {"datum": 300, "type": "quantitative"}, "y2": {"datum": 308.4}}},
            {"mark": {"type": "rule", "color": "#e0e3eb", "strokeWidth": 1.5}, "encoding": {"y": {"datum": 300, "type": "quantitative"}, "x": {"datum": {"utc": true, "year": 2024, "month": 9, "date": 10, "hours": 2}, "type": "temporal"}, "x2": {"datum": {"utc": true, "year": 2025, "month": 5, "date": 20, "hours": 9, "minutes": 50}}}},
            {"mark": {"type": "rule", "color": "#eceef2", "strokeWidth": 2}, "encoding": {"y": {"datum": 1428.1, "type": "quantitative"}, "x": {"datum": {"utc": true, "year": 2024, "month": 9, "date": 10, "hours": 2}, "type": "temporal"}, "x2": {"datum": {"utc": true, "year": 2025, "month": 5, "date": 20, "hours": 9, "minutes": 50}}}},
            {"mark": {"type": "rule", "color": "#eceef2", "strokeWidth": 2}, "encoding": {"y": {"datum": -309.6, "type": "quantitative"}, "x": {"datum": {"utc": true, "year": 2024, "month": 9, "date": 10, "hours": 2}, "type": "temporal"}, "x2": {"datum": {"utc": true, "year": 2025, "month": 5, "date": 20, "hours": 9, "minutes": 50}}}},
            {"mark": {"type": "rule", "color": "#eceef2", "strokeWidth": 2}, "encoding": {"x": {"datum": {"utc": true, "year": 2024, "month": 9, "date": 10, "hours": 2}, "type": "temporal"}, "y": {"datum": 1428.1, "type": "quantitative"}, "y2": {"datum": -309.6}}},
            {"mark": {"type": "rule", "color": "#eceef2", "strokeWidth": 2}, "encoding": {"x": {"datum": {"utc": true, "year": 2025, "month": 5, "date": 20, "hours": 9, "minutes": 50}, "type": "temporal"}, "y": {"datum": 1428.1, "type": "quantitative"}, "y2": {"datum": -309.6}}},
            {"mark": {"type": "text", "align": "left", "fontSize": 17.5, "color": "#131722"}, "encoding": {"x": {"datum": {"utc": true, "year": 2024, "month": 9, "date": 11, "hours": 9, "minutes": 50}, "type": "temporal"}, "y": {"datum": 275.4, "type": "quantitative"}, "text": {"value": "MACD (12, 26, close)"}}},
            {"mark": {"type": "text", "align": "left", "fontSize": 17.5, "color": "#b2dfdb"}, "encoding": {"x": {"datum": {"utc": true, "year": 2024, "month": 10, "date": 1, "hours": 4, "minutes": 30}, "type": "temporal"}, "y": {"datum": 275.4, "type": "quantitative"}, "text": {"value": "35.93"}}},
            {"mark": {"type": "text", "align": "left", "fontSize": 17.5, "color": "#2962ff"}, "encoding": {"x": {"datum": {"utc": true, "year": 2024, "month": 10, "date": 7, "hours": 7, "minutes": 12}, "type": "temporal"}, "y": {"datum": 275.4, "type": "quantitative"}, "text": {"value": "6.77"}}},
            {"mark": {"type": "text", "align": "left", "fontSize": 17.5, "color": "#ff6d00"}, "encoding": {"x": {"datum": {"utc": true, "year": 2024, "month": 10, "date": 12, "hours": 9, "minutes": 50}, "type": "temporal"}, "y": {"datum": 275.4, "type": "quantitative"}, "text": {"value": "−29.15"}}},
            {"mark": {"type": "rect", "color": "#b2dfdb", "cornerRadius": 2}, "encoding": {"x": {"datum": {"utc": true, "year": 2025, "month": 5, "date": 9, "hours": 12}, "type": "temporal"}, "x2": {"datum": {"utc": true, "year": 2025, "month": 5, "date": 16, "hours": 16, "minutes": 48}}, "y": {"datum": 52.1, "type": "quantitative"}, "y2": {"datum": 19.8}}},
            {"mark": {"type": "text", "align": "left", "fontSize": 17.5, "color": "#131722"}, "encoding": {"x": {"datum": {"utc": true, "year": 2025, "month": 5, "date": 11}, "type": "temporal"}, "y": {"datum": 35.8, "type": "quantitative"}, "text": {"value": "35.93"}}},
            {"mark": {"type": "rect", "color": "#2962ff", "cornerRadius": 2}, "encoding": {"x": {"datum": {"utc": true, "year": 2025, "month": 5, "date": 9, "hours": 12}, "type": "temporal"}, "x2": {"datum": {"utc": true, "year": 2025, "month": 5, "date": 15, "hours": 17, "minutes": 46}}, "y": {"datum": 21, "type": "quantitative"}, "y2": {"datum": -10.8}}},
            {"mark": {"type": "text", "align": "left", "fontSize": 17.5, "color": "#ffffff"}, "encoding": {"x": {"datum": {"utc": true, "year": 2025, "month": 5, "date": 11}, "type": "temporal"}, "y": {"datum": 5.4, "type": "quantitative"}, "text": {"value": "6.77"}}},
            {"mark": {"type": "rect", "color": "#ff6d00", "cornerRadius": 2}, "encoding": {"x": {"datum": {"utc": true, "year": 2025, "month": 5, "date": 9, "hours": 12}, "type": "temporal"}, "x2": {"datum": {"utc": true, "year": 2025, "month": 5, "date": 17, "hours": 17, "minutes": 46}}, "y": {"datum": -12.6, "type": "quantitative"}, "y2": {"datum": -44.9}}},
            {"mark": {"type": "text", "align": "left", "fontSize": 17.5, "color": "#ffffff"}, "encoding": {"x": {"datum": {"utc": true, "year": 2025, "month": 5, "date": 11}, "type": "temporal"}, "y": {"datum": -29.3, "type": "quantitative"}, "text": {"value": "−29.15"}}},
            {"mark": {"type": "point", "filled": true, "opacity": 1, "size": 784, "color": "#131722", "shape": "M-1,-0.52 H-0.28 V0.52 H-0.6 V-0.08 H-1 Z M-0.2,-0.35 A0.16,0.16 0 1 1 0.12,-0.35 A0.16,0.16 0 1 1 -0.2,-0.35 Z M0.32,-0.52 H1 L0.55,0.52 H-0.1 Z"}, "encoding": {"x": {"datum": {"utc": true, "year": 2024, "month": 9, "date": 11, "hours": 15, "minutes": 7}, "type": "temporal"}, "y": {"datum": -340.7, "type": "quantitative"}}},
            {"mark": {"type": "text", "align": "left", "fontSize": 18, "color": "#131722"}, "encoding": {"x": {"datum": {"utc": true, "year": 2024, "month": 9, "date": 14, "hours": 0, "minutes": 30}, "type": "temporal"}, "y": {"datum": -343, "type": "quantitative"}, "text": {"value": "TradingView"}}},
            {"mark": {"type": "text", "align": "left", "font": "Liberation Serif", "fontWeight": "bold", "fontSize": 58.5, "color": "#ff1515", "stroke": "#ff1515", "strokeWidth": 2}, "encoding": {"x": {"datum": {"utc": true, "year": 2024, "month": 9, "date": 9, "hours": 15, "minutes": 22}, "type": "temporal"}, "y": {"datum": -265.3, "type": "quantitative"}, "text": {"value": "WebGiaCoin.com News"}}}
          ]
        }
      ]
    }
  ],
  "resolve": {"scale": {"y": "independent", "color": "independent"}}
}
